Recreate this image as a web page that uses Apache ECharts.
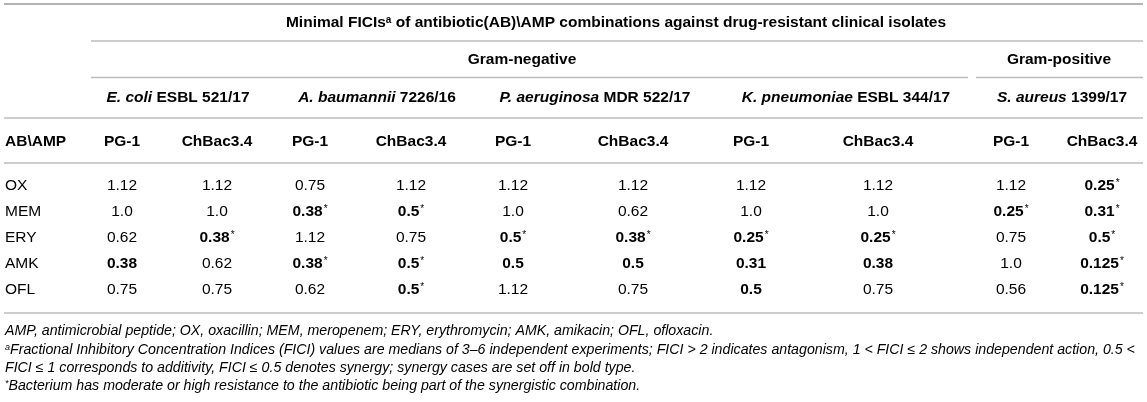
<!doctype html>
<html>
<head>
<meta charset="UTF-8">
<title>Minimal FICIs</title>
<script src="https://cdn.jsdelivr.net/npm/echarts@6/dist/echarts.min.js"></script>
<style>
    html, body { margin: 0; padding: 0; background: #fff; }
    #main { width: 1147px; height: 402px; }
</style>
</head>
<body>
<div id="main"></div>
<script type="text/javascript">
// 行：抗生素
var antibiotics = ['OX', 'MEM', 'ERY', 'AMK', 'OFL'];
// 菌株（斜体部分 + 正体部分）
var strainNames = ['E. coli', 'A. baumannii', 'P. aeruginosa', 'K. pneumoniae', 'S. aureus'];
var strainCodes = ['ESBL 521/17', '7226/16', 'MDR 522/17', 'ESBL 344/17', '1399/17'];
var peptides = ['PG-1', 'ChBac3.4'];
var groups = ['Gram-negative', 'Gram-positive'];

// FICI 值，每行 10 列（5 个菌株 x 2 个肽）
var ficiOX  = ['1.12', '1.12', '0.75', '1.12', '1.12', '1.12', '1.12', '1.12', '1.12', '0.25'];
var ficiMEM = ['1.0',  '1.0',  '0.38', '0.5',  '1.0',  '0.62', '1.0',  '1.0',  '0.25', '0.31'];
var ficiERY = ['0.62', '0.38', '1.12', '0.75', '0.5',  '0.38', '0.25', '0.25', '0.75', '0.5'];
var ficiAMK = ['0.38', '0.62', '0.38', '0.5',  '0.5',  '0.5',  '0.31', '0.38', '1.0',  '0.125'];
var ficiOFL = ['0.75', '0.75', '0.62', '0.5',  '1.12', '0.75', '0.5',  '0.75', '0.56', '0.125'];
// 耐药标记 (*)
var starOX  = [0, 0, 0, 0, 0, 0, 0, 0, 0, 1];
var starMEM = [0, 0, 1, 1, 0, 0, 0, 0, 1, 1];
var starERY = [0, 1, 0, 0, 1, 1, 1, 1, 0, 1];
var starAMK = [0, 0, 1, 1, 0, 0, 0, 0, 0, 1];
var starOFL = [0, 0, 0, 1, 0, 0, 0, 0, 0, 1];

var ficiRows = [ficiOX, ficiMEM, ficiERY, ficiAMK, ficiOFL];
var starRows = [starOX, starMEM, starERY, starAMK, starOFL];

var footnotes = [
    '{t|AMP, antimicrobial peptide; OX, oxacillin; MEM, meropenem; ERY, erythromycin; AMK, amikacin; OFL, ofloxacin.}',
    '{s|a}{t|Fractional Inhibitory Concentration Indices (FICI) values are medians of 3–6 independent experiments; FICI > 2 indicates antagonism, 1 < FICI ≤ 2 shows independent action, 0.5 <}',
    '{t|FICI ≤ 1 corresponds to additivity, FICI ≤ 0.5 denotes synergy; synergy cases are set off in bold type.}',
    '{s|*}{t|Bacterium has moderate or high resistance to the antibiotic being part of the synergistic combination.}'
];

// 版式
var W = 1147, H = 402;
var FONT = '"Liberation Sans", Arial, Helvetica, sans-serif';
var FS = 15.5;
var colX = [122, 217, 310, 411, 513, 633, 751, 878, 1011, 1102];
var rowY = [186, 212, 238, 264, 290];
var strainX = [178, 377, 595, 846, 1062];
var groupX = [522, 1059];
var labelX = 5;
var ruleColor = '#bdbdbd';

var cells = [];
ficiRows.forEach(function (row, r) {
    row.forEach(function (v, c) {
        cells.push([c, r]);
    });
});

var richCell = {
    n: { fontFamily: FONT, fontSize: FS, color: '#333' },
    b: { fontFamily: FONT, fontSize: FS, fontWeight: 'bold', color: '#111' },
    s: { fontFamily: FONT, fontSize: 10, color: '#333', verticalAlign: 'top', lineHeight: 15, padding: [0, 0, 0, 1] }
};

function hline(x1, x2, y, w, color) {
    return {
        type: 'line',
        shape: { x1: x1, y1: y, x2: x2, y2: y },
        style: { stroke: color || ruleColor, lineWidth: w || 1.3 },
        silent: true
    };
}

function htext(x, y, text, rich, align) {
    return {
        type: 'text',
        x: x, y: y,
        style: { text: text, rich: rich, align: align || 'center', verticalAlign: 'middle' },
        silent: true
    };
}

var richHead = {
    h: { fontFamily: FONT, fontSize: FS, fontWeight: 'bold', color: '#111' },
    i: { fontFamily: FONT, fontSize: FS, fontWeight: 'bold', fontStyle: 'italic', color: '#111' },
    s: { fontFamily: FONT, fontSize: 10, fontWeight: 'bold', color: '#111', verticalAlign: 'top', lineHeight: 16 }
};
var richFoot = {
    t: { fontFamily: FONT, fontSize: 14.2, fontStyle: 'italic', color: '#333' },
    s: { fontFamily: FONT, fontSize: 9, fontStyle: 'italic', color: '#333', verticalAlign: 'top', lineHeight: 14 }
};

var graphics = [
    hline(4, 1143, 4, 2, '#b3b3b3'),
    hline(91, 1143, 41),
    hline(91, 968, 77.5),
    hline(976, 1143, 77.5),
    hline(4, 1143, 118),
    hline(4, 1143, 163),
    hline(4, 1143, 313),
    htext(616, 23, '{h|Minimal FICIs}{s|a}{h| of antibiotic(AB)\\AMP combinations against drug-resistant clinical isolates}', richHead),
    htext(labelX, 142, '{h|AB\\AMP}', richHead, 'left')
];
groups.forEach(function (g, i) {
    graphics.push(htext(groupX[i], 60, '{h|' + g + '}', richHead));
});
strainNames.forEach(function (s, i) {
    graphics.push(htext(strainX[i], 98, '{i|' + s + '}{h| ' + strainCodes[i] + '}', richHead));
    peptides.forEach(function (p, j) {
        graphics.push(htext(colX[i * 2 + j], 142, '{h|' + p + '}', richHead));
    });
});
antibiotics.forEach(function (a, r) {
    graphics.push(htext(labelX, rowY[r], '{n|' + a + '}', richCell, 'left'));
});
var footY = [331, 350, 368, 386];
footnotes.forEach(function (f, i) {
    graphics.push(htext(5, footY[i], f, richFoot, 'left'));
});

var myChart = echarts.init(document.getElementById('main'), null, { renderer: 'canvas' });
var option = {
    animation: false,
    grid: { left: 0, right: 0, top: 0, bottom: 0 },
    xAxis: { type: 'value', min: 0, max: W, show: false },
    yAxis: { type: 'value', min: 0, max: H, inverse: true, show: false },
    graphic: graphics,
    series: [{
        type: 'custom',
        name: 'FICI',
        clip: false,
        silent: true,
        data: cells,
        renderItem: function (params, api) {
            var c = api.value(0), r = api.value(1);
            var p = api.coord([colX[c], rowY[r]]);
            var v = ficiRows[r][c];
            var key = parseFloat(v) <= 0.5 ? 'b' : 'n';
            var txt = '{' + key + '|' + v + '}' + (starRows[r][c] ? '{s|*}' : '');
            return {
                type: 'text',
                x: p[0], y: p[1],
                style: { text: txt, rich: richCell, align: 'center', verticalAlign: 'middle' }
            };
        }
    }]
};
myChart.setOption(option);
</script>
</body>
</html>
